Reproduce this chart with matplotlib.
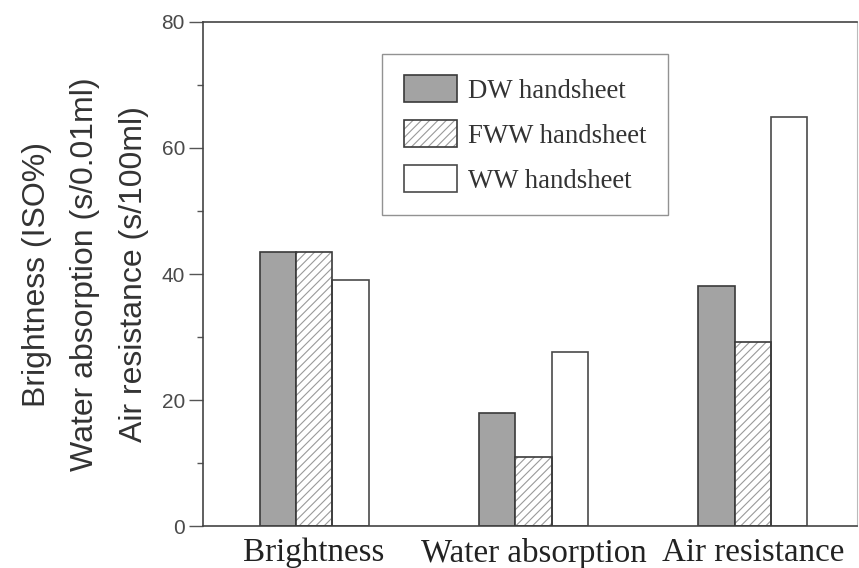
import numpy as np
import matplotlib
matplotlib.use("Agg")
import matplotlib.pyplot as plt
from matplotlib.ticker import MultipleLocator

categories = ["Brightness", "Water absorption", "Air resistance"]
series = ["DW handsheet", "FWW handsheet", "WW handsheet"]
dw = [43.5, 17.9, 38.1]
fww = [43.5, 11.0, 29.2]
ww = [39.1, 27.6, 64.9]

SANS = ["Liberation Sans", "DejaVu Sans"]
SERIF = ["Liberation Serif", "DejaVu Serif"]

plt.rcParams["hatch.linewidth"] = 0.8

fig = plt.figure(figsize=(8.59, 5.68), dpi=100)
ax = fig.add_axes([0.2363, 0.0739, 0.7614, 0.8874])

x = np.arange(1, len(categories) + 1)
w = 0.166
edge = "#3a3a3a"

b_dw = ax.bar(x - w, dw, w, color="#a3a3a3", edgecolor=edge, linewidth=1.2, zorder=2)
# hatch in light gray, outline drawn on top in dark gray
b_fww_h = ax.bar(x, fww, w, color="white", edgecolor="#9a9a9a", hatch="////",
                 linewidth=0, zorder=2)
b_fww_o = ax.bar(x, fww, w, fill=False, edgecolor=edge, linewidth=1.2, zorder=3)
b_ww = ax.bar(x + w, ww, w, color="white", edgecolor="#4a4a4a", linewidth=1.2, zorder=2)

ax.set_xlim(0.493, 3.475)
ax.set_ylim(0, 80)
ax.set_xticks(x)
ax.set_xticklabels(categories, family=SERIF, fontsize=23.8, color="#222222")
ax.tick_params(axis="x", length=0, pad=8.3)
ax.yaxis.set_major_locator(MultipleLocator(20))
ax.yaxis.set_minor_locator(MultipleLocator(10))
ax.tick_params(axis="y", which="major", length=10, width=1, color="#555555",
               labelsize=15, labelcolor="#4a4a4a", pad=3)
ax.tick_params(axis="y", which="minor", length=4, width=1, color="#555555")
for lab in ax.get_yticklabels():
    lab.set_family(SANS)

for s in ("left", "bottom", "top"):
    ax.spines[s].set_color("#444444")
    ax.spines[s].set_linewidth(1.2)
ax.spines["right"].set_color("#bbbbbb")
ax.spines["right"].set_linewidth(0.8)

ax.set_ylabel("Brightness (ISO%)\nWater absorption (s/0.01ml)\nAir resistance (s/100ml)",
              family=SANS, fontsize=23, color="#333333", linespacing=1.82)
ax.yaxis.set_label_coords(-0.082, 0.5)

leg = ax.legend([b_dw, (b_fww_h, b_fww_o), b_ww], series,
                loc="upper left", bbox_to_anchor=(0.274, 0.937), borderaxespad=0,
                prop={"family": SERIF, "size": 19.3}, frameon=True, fancybox=False,
                edgecolor="#777777", handlelength=2.0, handleheight=1.15,
                handletextpad=0.4, labelspacing=0.62, borderpad=0.8)
leg.get_frame().set_linewidth(1.0)
for t in leg.get_texts():
    t.set_color("#333333")

fig.savefig("out.png", dpi=100, facecolor="white")
